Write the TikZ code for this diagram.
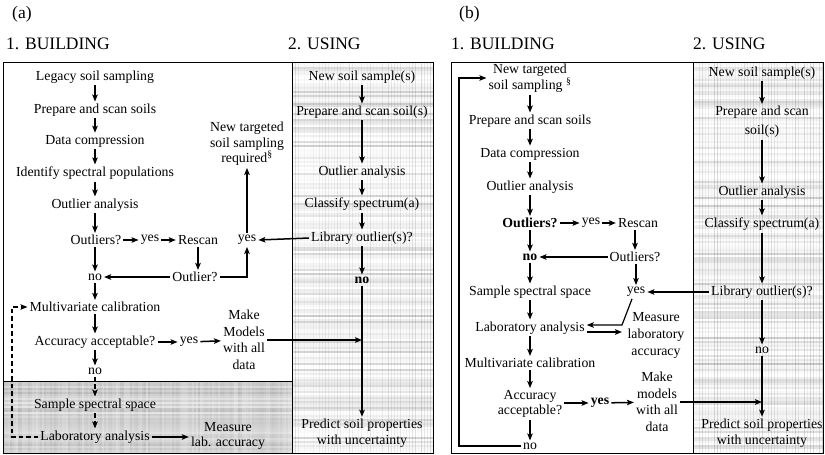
\documentclass[tikz,border=0pt]{standalone}
\usepackage{fontspec}
\setmainfont{Liberation Serif}
\usetikzlibrary{arrows.meta,calc}
\begin{document}
\begin{tikzpicture}[x=1pt,y=-1pt,
  txt/.style={font=\fontsize{13.8}{15.5}\selectfont, inner sep=2pt, align=center},
  bld/.style={txt, font=\fontsize{13.8}{15.5}\selectfont\bfseries},
  head/.style={font=\fontsize{17.5}{20}\selectfont, inner sep=0pt, anchor=west},
  arr/.style={line width=1.5pt, -{Stealth[length=7pt,width=5.5pt,inset=1.5pt]}},
  darr/.style={arr, dash pattern=on 4.5pt off 3pt},
  frame/.style={line width=1pt}]
\useasboundingbox (0,0) rectangle (825,455);

% ---------- textures ----------
\pgfmathsetseed{7}
\begin{scope}
\clip (292,62) rectangle (433,453);
\fill[gray!6] (292,62) rectangle (433,453);
\foreach \yy in {62,64,...,454} {\pgfmathsetmacro\gg{int(rnd*rnd*45)}
  \draw[gray!\gg, line width=2pt] (292,\yy) -- (433,\yy);}
\foreach \xx in {292,295,...,433} {\pgfmathsetmacro\oo{rnd*0.15}
  \draw[black, opacity=\oo, line width=1pt] (\xx,62) -- (\xx,453);}
\end{scope}
\begin{scope}
\clip (693,62) rectangle (823,453);
\fill[gray!6] (693,62) rectangle (823,453);
\foreach \yy in {62,64,...,454} {\pgfmathsetmacro\gg{int(rnd*rnd*45)}
  \draw[gray!\gg, line width=2pt] (693,\yy) -- (823,\yy);}
\foreach \xx in {693,696,...,823} {\pgfmathsetmacro\oo{rnd*0.15}
  \draw[black, opacity=\oo, line width=1pt] (\xx,62) -- (\xx,453);}
\end{scope}
\begin{scope}
\clip (3,381) rectangle (292,453);
\fill[gray!40] (3,381) rectangle (292,453);
\foreach \yy in {381,383,...,453} {\pgfmathsetmacro\gg{int(25+rnd*35)}
  \draw[gray!\gg, line width=2pt] (3,\yy) -- (292,\yy);}
\foreach \xx in {3,5,...,292} {\pgfmathsetmacro\oo{rnd*0.35}
  \draw[white, opacity=\oo, line width=1.2pt] (\xx,381) -- (\xx,453);}
\end{scope}

% ---------- frames ----------
\draw[frame] (3,62) rectangle (433,453);
\draw[frame] (292,62) -- (292,453);
\draw[frame] (3,381) -- (292,381);
\draw[frame] (451,62) rectangle (823,453);
\draw[frame] (693,62) -- (693,453);

% ---------- panel (a) ----------
\node[head] (lA) at (12,14) {(a)};
\node[head] (hA1) at (6,44) {1. BUILDING};
\node[head] (hA2) at (288,44) {2. USING};

\node[txt] (a1) at (95,77) {Legacy soil sampling};
\node[txt] (a2) at (95,110) {Prepare and scan soils};
\node[txt] (a3) at (95,141) {Data compression};
\node[txt] (a4) at (95,173) {Identify spectral populations};
\node[txt] (a5) at (95,205) {Outlier analysis};
\node[txt] (a6) at (96,240) {Outliers?};
\node[txt] (a7) at (150,240) {yes};
\node[txt] (a8) at (198,240) {Rescan};
\node[txt] (a9) at (95,277) {no};
\node[txt] (a10) at (195,277) {Outlier?};
\node[txt] (a11) at (247,240) {yes};
\node[txt] (a12) at (247,144) {New targeted\\soil sampling\\required\textsuperscript{§}};
\node[txt] (a13) at (95,307) {Multivariate calibration};
\node[txt] (a14) at (95,342) {Accuracy acceptable?};
\node[txt] (a15) at (189,342) {yes};
\node[txt, font=\fontsize{13.8}{16.5}\selectfont] (a16) at (244,340) {Make\\Models\\with all\\data};
\node[txt] (a17) at (95,371) {no};
\node[txt] (a18) at (95,405) {Sample spectral space};
\node[txt] (a19) at (95,437) {Laboratory analysis};
\node[txt] (a20) at (228,436) {Measure\\lab. accuracy};

\node[txt] (r1) at (362,77) {New soil sample(s)};
\node[txt] (r2) at (362,112) {Prepare and scan soil(s)};
\node[txt] (r3) at (362,172) {Outlier analysis};
\node[txt] (r4) at (362,204) {Classify spectrum(a)};
\node[txt] (r5) at (362,238) {Library outlier(s)?};
\node[bld] (r6) at (362,280) {no};
\node[txt] (r7) at (362,433) {Predict soil properties\\with uncertainty};

\draw[arr] (a1) -- (a2);
\draw[arr] (a2) -- (a3);
\draw[arr] (a3) -- (a4);
\draw[arr] (a4) -- (a5);
\draw[arr] (a5.south) -- (a5.south |- a6.north);
\draw[arr] (a6) -- (a7);
\draw[arr] (a7) -- (a8);
\draw[arr] (a8.south) -- (a8.south |- a10.north);
\draw[arr] (a10) -- (a9);
\draw[arr] (a6.south -| a9) -- (a9);
\draw[arr] (a9) -- (a13);
\draw[arr] (a10.east) -| (a11.south);
\draw[arr] (a11) -- (a12);
\draw[arr] (r5.west) -- (a11.east);
\draw[arr] (a13) -- (a14);
\draw[arr] (a14) -- (a15);
\draw[arr] (a15) -- (a16);
\draw[arr] (a14.south -| a17) -- (a17);
\draw[darr] (a17) -- (a18);
\draw[darr] (a18) -- (a19);
\draw[arr] (a19.east) -- (a19.east -| a20.west);
\coordinate (dla) at (12,0);
\draw[darr] (a19.west) -- (a19.west -| dla) |- (a13.west);
\draw[arr] (a16.east) -- (a16.east -| r7);

\draw[arr] (r1) -- (r2);
\draw[arr] (r2) -- (r3);
\draw[arr] (r3) -- (r4);
\draw[arr] (r4) -- (r5);
\draw[arr] (r5) -- (r6);
\draw[arr] (r6) -- (r7);

% ---------- panel (b) ----------
\node[head] (lB) at (459,14) {(b)};
\node[head] (hB1) at (451,44) {1. BUILDING};
\node[head] (hB2) at (693,44) {2. USING};

\node[txt, font=\fontsize{13.8}{16.5}\selectfont] (b1) at (530,78) {New targeted\\soil sampling \textsuperscript{§}};
\node[txt] (b2) at (530,121) {Prepare and scan soils};
\node[txt] (b3) at (530,154) {Data compression};
\node[txt] (b4) at (530,187) {Outlier analysis};
\node[bld] (b5) at (530,223) {Outliers?};
\node[txt] (b6) at (591,223) {yes};
\node[txt] (b7) at (638,223) {Rescan};
\node[bld] (b8) at (530,257) {no};
\node[txt] (b9) at (635,257) {Outliers?};
\node[txt] (b10) at (530,292) {Sample spectral space};
\node[txt] (b11) at (636,292) {yes};
\node[txt] (b12) at (530,328) {Laboratory analysis};
\node[txt, font=\fontsize{13.8}{17}\selectfont] (b13) at (656,335) {Measure\\laboratory\\accuracy};
\node[txt] (b14) at (530,363) {Multivariate calibration};
\node[txt] (b15) at (530,404) {Accuracy\\acceptable?};
\node[bld] (b16) at (600,403) {yes};
\node[txt, font=\fontsize{13.8}{16.5}\selectfont] (b17) at (657,402) {Make\\models\\with all\\data};
\node[txt] (b18) at (530,446) {no};

\node[txt] (s1) at (762,73) {New soil sample(s)};
\node[txt, font=\fontsize{13.8}{19}\selectfont] (s2) at (762,122) {Prepare and scan\\soil(s)};
\node[txt] (s3) at (762,192) {Outlier analysis};
\node[txt] (s4) at (762,224) {Classify spectrum(a)};
\node[txt] (s5) at (762,292) {Library outlier(s)?};
\node[txt] (s6) at (762,350) {no};
\node[txt] (s7) at (762,433) {Predict soil properties\\with uncertainty};

\draw[arr] (b1) -- (b2);
\draw[arr] (b2) -- (b3);
\draw[arr] (b3) -- (b4);
\draw[arr] (b4) -- (b5);
\draw[arr] (b5) -- (b6);
\draw[arr] (b6) -- (b7);
\draw[arr] ([xshift=-3pt]b7.south) -- ([xshift=-3pt]b7.south |- b9.north);
\draw[arr] (b9) -- (b8);
\draw[arr] (b5) -- (b8);
\draw[arr] (b8) -- (b10);
\draw[arr] (b9.south -| b11) -- (b11);
\draw[arr] (s5.west) -- (b11.east);
\draw[arr] (b10) -- (b12);
\coordinate (bk) at (622,325);
\draw[arr, line width=1.2pt] ([xshift=-4pt]b11.south) -- (bk) -- (bk -| b12.east);
\draw[arr] ([yshift=-4pt]b12.east) -- ([yshift=-4pt]b12.east -| bk);
\draw[arr] (b12) -- (b14);
\draw[arr] (b14) -- (b15);
\draw[arr] (b15.east |- b16) -- (b16);
\draw[arr] (b16) -- (b17);
\draw[arr] (b15) -- (b18);
\coordinate (blb) at (459,0);
\draw[arr, line width=1.1pt] (b18.west) -- (b18.west -| blb) |- (b1.west);
\draw[arr] (b17.east) -- (b17.east -| s7);

\draw[arr] (s1) -- (s2);
\draw[arr] (s2) -- (s3);
\draw[arr] (s3) -- (s4);
\draw[arr] (s4) -- (s5);
\draw[arr] (s5) -- (s6);
\draw[arr] (s6) -- (s7);
\end{tikzpicture}
\end{document}
